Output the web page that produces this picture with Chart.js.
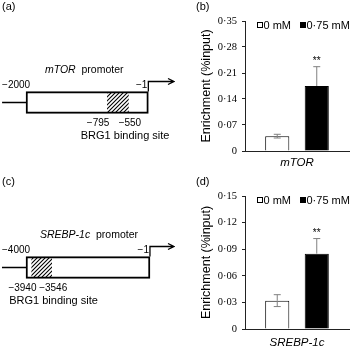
<!DOCTYPE html>
<html>
<head>
<meta charset="utf-8">
<script src="https://cdn.jsdelivr.net/npm/chart.js@4.4.0/dist/chart.umd.min.js"></script>
<style>
  body { margin: 0; background: #fff; width: 350px; height: 350px; position: relative; overflow: hidden; }
  canvas { position: absolute; }
</style>
</head>
<body>
<canvas id="pa" width="175" height="175" style="left:0;top:0"></canvas>
<canvas id="pb" width="175" height="175" style="left:175px;top:0"></canvas>
<canvas id="pc" width="175" height="175" style="left:0;top:175px"></canvas>
<canvas id="pd" width="175" height="175" style="left:175px;top:175px"></canvas>
<script>
const groups = ["0 mM", "0·75 mM"];

const mtorMeans = [0.040, 0.175];
const mtorErrors = [0.005, 0.052];
const mtorStars = ["", "**"];
const mtorTicks = [0, 0.07, 0.14, 0.21, 0.28, 0.35];

const srebpMeans = [0.032, 0.085];
const srebpErrors = [0.0067, 0.017];
const srebpStars = ["", "**"];
const srebpTicks = [0, 0.03, 0.06, 0.09, 0.12, 0.15];

// promoter maps are schematic (box = 0..100), the real positions are the labels
const mtorBox = [0, 100];
const mtorSite = [66.5, 83.7];
const mtorLabels = ["−2000", "−795", "−550", "−1"];
const srebpBox = [0, 100];
const srebpSite = [4.6, 20.7];
const srebpLabels = ["−4000", "−3940", "−3546", "−1"];

const SANS = "'Liberation Sans', Arial, sans-serif";
const SERIF = "'Liberation Serif', 'Times New Roman', serif";

function hatch(ctx) {
  const c = document.createElement("canvas");
  c.width = 4;
  c.height = 4;
  const g = c.getContext("2d");
  g.fillStyle = "#fff";
  g.fillRect(0, 0, 4, 4);
  g.strokeStyle = "#000";
  g.lineWidth = 1.1;
  g.beginPath();
  g.moveTo(0, 4); g.lineTo(4, 0);
  g.moveTo(-1, 1); g.lineTo(1, -1);
  g.moveTo(3, 5); g.lineTo(5, 3);
  g.stroke();
  return ctx.createPattern(c, "repeat");
}

function drawPromoter(id, tag, gene, box, site, labels, cfg) {
  const canvas = document.getElementById(id);
  const extras = {
    id: "promoterExtras",
    afterDatasetsDraw(chart) {
      const { ctx, scales: { x } } = chart;
      const bar = chart.getDatasetMeta(0).data[0];
      const top = bar.y - 11, bottom = bar.y + 11;
      const xl = x.getPixelForValue(cfg.lead);
      const x0 = x.getPixelForValue(box[0]), x1 = x.getPixelForValue(box[1]);
      const s0 = x.getPixelForValue(site[0]), s1 = x.getPixelForValue(site[1]);
      const w = chart.width;
      ctx.save();
      ctx.strokeStyle = "#000";
      ctx.lineWidth = 1.3;
      ctx.beginPath();
      ctx.moveTo(xl, bar.y);
      ctx.lineTo(x0, bar.y);
      ctx.moveTo(x1, top);
      ctx.lineTo(x1, top - 10);
      ctx.lineTo(w - 1, top - 10);
      ctx.moveTo(w - 7, top - 13);
      ctx.lineTo(w - 1, top - 10);
      ctx.lineTo(w - 7, top - 7);
      ctx.stroke();

      ctx.fillStyle = "#000";
      ctx.textBaseline = "middle";
      // title: italic gene name + promoter
      const italic = "italic 10.5px " + SANS, plain = "10.5px " + SANS;
      ctx.font = italic;
      const gw = ctx.measureText(gene).width;
      ctx.font = plain;
      const pw = ctx.measureText("  promoter").width;
      const tx = (x0 + x1) / 2 + cfg.titleShift - (gw + pw) / 2;
      ctx.textAlign = "left";
      ctx.font = italic;
      ctx.fillText(gene, tx, top - 21.5);
      ctx.font = plain;
      ctx.fillText("  promoter", tx + gw, top - 21.5);

      ctx.font = "10px " + SANS;
      ctx.textAlign = "left";
      ctx.fillText(labels[0], xl, top - 6.5);
      ctx.textAlign = "right";
      ctx.fillText(labels[3], x1 - 1, top - 6.5);
      ctx.textAlign = "center";
      ctx.fillText(labels[1], s0 - 9.3, bottom + 9.5);
      ctx.fillText(labels[2], s1 + 1.5, bottom + 9.5);
      ctx.font = "11px " + SANS;
      ctx.fillText("BRG1 binding site", x.getPixelForValue(cfg.caption), bottom + 22.5);

      ctx.textAlign = "left";
      ctx.font = "11px " + SANS;
      ctx.fillText(tag, 2, 6.5);
      ctx.restore();
    },
  };
  new Chart(canvas, {
    type: "bar",
    data: {
      labels: [gene],
      datasets: [
        {
          data: [box],
          backgroundColor: "rgba(0,0,0,0)",
          borderColor: "#000",
          borderWidth: 1.3,
          borderSkipped: false,
          barThickness: 22,
          grouped: false,
        },
        {
          data: [site],
          backgroundColor: hatch(canvas.getContext("2d")),
          borderWidth: 0,
          barThickness: 20,
          grouped: false,
        },
      ],
    },
    options: {
      indexAxis: "y",
      responsive: false,
      animation: false,
      layout: { padding: { top: cfg.padTop, bottom: 0, left: 0, right: 0 } },
      plugins: { legend: { display: false }, tooltip: { enabled: false } },
      scales: {
        x: { type: "linear", min: cfg.min, max: cfg.max, display: false },
        y: { display: false },
      },
    },
    plugins: [extras],
  });
}

function drawEnrichment(id, tag, gene, means, errors, stars, ticks, axisH, titlePad) {
  const canvas = document.getElementById(id);
  const extras = {
    id: "barExtras",
    afterDatasetsDraw(chart) {
      const { ctx, scales: { y } } = chart;
      ctx.save();
      chart.data.datasets.forEach((ds, i) => {
        const bar = chart.getDatasetMeta(i).data[0];
        const v = ds.data[0], e = errors[i];
        const ym = y.getPixelForValue(v);
        const yt = y.getPixelForValue(v + e);
        const yb = y.getPixelForValue(v - e);
        ctx.strokeStyle = "#808080";
        ctx.lineWidth = 1;
        ctx.beginPath();
        ctx.moveTo(bar.x, ym);
        ctx.lineTo(bar.x, yt);
        ctx.moveTo(bar.x - 3.5, yt);
        ctx.lineTo(bar.x + 3.5, yt);
        if (ds.backgroundColor !== "#000") {
          ctx.moveTo(bar.x, ym);
          ctx.lineTo(bar.x, yb);
          ctx.moveTo(bar.x - 3.5, yb);
          ctx.lineTo(bar.x + 3.5, yb);
        }
        ctx.stroke();
        if (stars[i]) {
          ctx.fillStyle = "#000";
          ctx.font = "10px " + SANS;
          ctx.textAlign = "center";
          ctx.textBaseline = "alphabetic";
          ctx.fillText(stars[i], bar.x, yt - 3);
        }
      });
      // legend
      const lx = [82.5, 125.5];
      chart.data.datasets.forEach((ds, i) => {
        ctx.fillStyle = ds.backgroundColor;
        ctx.fillRect(lx[i], 22.5, 5, 5);
        ctx.strokeStyle = "#000";
        ctx.lineWidth = 1;
        ctx.strokeRect(lx[i], 22.5, 5, 5);
        ctx.fillStyle = "#000";
        ctx.font = "11px " + SANS;
        ctx.textAlign = "left";
        ctx.textBaseline = "middle";
        ctx.fillText(ds.label, lx[i] + 6, 25.5);
      });
      ctx.fillStyle = "#000";
      ctx.font = "11px " + SANS;
      ctx.textAlign = "left";
      ctx.textBaseline = "middle";
      ctx.fillText(tag, 21, 6.5);
      ctx.restore();
    },
  };
  new Chart(canvas, {
    type: "bar",
    data: {
      labels: [gene],
      datasets: [
        {
          label: groups[0],
          data: [means[0]],
          backgroundColor: "#fff",
          borderColor: "#000",
          borderWidth: 1,
          categoryPercentage: 0.76,
          barPercentage: 0.61,
        },
        {
          label: groups[1],
          data: [means[1]],
          backgroundColor: "#000",
          borderColor: "#000",
          borderWidth: 1,
          categoryPercentage: 0.76,
          barPercentage: 0.61,
        },
      ],
    },
    options: {
      responsive: false,
      animation: false,
      layout: { padding: { top: 21, right: 1, left: 0, bottom: 0 } },
      plugins: { legend: { display: false }, tooltip: { enabled: false } },
      scales: {
        x: {
          grid: { display: false },
          border: { color: "#222", width: 1 },
          ticks: { display: false },
          title: {
            display: true,
            text: gene,
            color: "#000",
            font: { family: SANS, size: 11.5, style: "italic" },
            padding: { top: 0, bottom: titlePad },
          },
          afterFit: (s) => { s.height = axisH; },
        },
        y: {
          min: 0,
          max: ticks[ticks.length - 1],
          afterBuildTicks: (s) => { s.ticks = ticks.map((v) => ({ value: v })); },
          grid: { drawOnChartArea: false, tickLength: 3, color: "#222" },
          border: { color: "#222", width: 1 },
          ticks: {
            padding: 5,
            color: "#000",
            font: { family: SERIF, size: 10.5 },
            callback: (v) => (v === 0 ? "0" : Number(v).toFixed(2).replace(".", "·")),
          },
          title: {
            display: true,
            text: "Enrichment (%input)",
            color: "#000",
            font: { family: SANS, size: 12.5 },
            padding: { top: 24, bottom: 0 },
          },
          afterFit: (s) => { s.width = 70; },
        },
      },
    },
    plugins: [extras],
  });
}

drawPromoter("pa", "(a)", "mTOR", mtorBox, mtorSite, mtorLabels,
  { min: -21.3, max: 121.8, lead: -19.6, padTop: 30, titleShift: -3, caption: 81 });
drawPromoter("pc", "(c)", "SREBP-1c", srebpBox, srebpSite, srebpLabels,
  { min: -21, max: 120.2, lead: -19.4, padTop: 10, titleShift: 1, caption: 22.2 });
drawEnrichment("pb", "(b)", "mTOR", mtorMeans, mtorErrors, mtorStars, mtorTicks, 24, 5.5);
drawEnrichment("pd", "(d)", "SREBP-1c", srebpMeans, srebpErrors, srebpStars, srebpTicks, 21, 0);
</script>
</body>
</html>
